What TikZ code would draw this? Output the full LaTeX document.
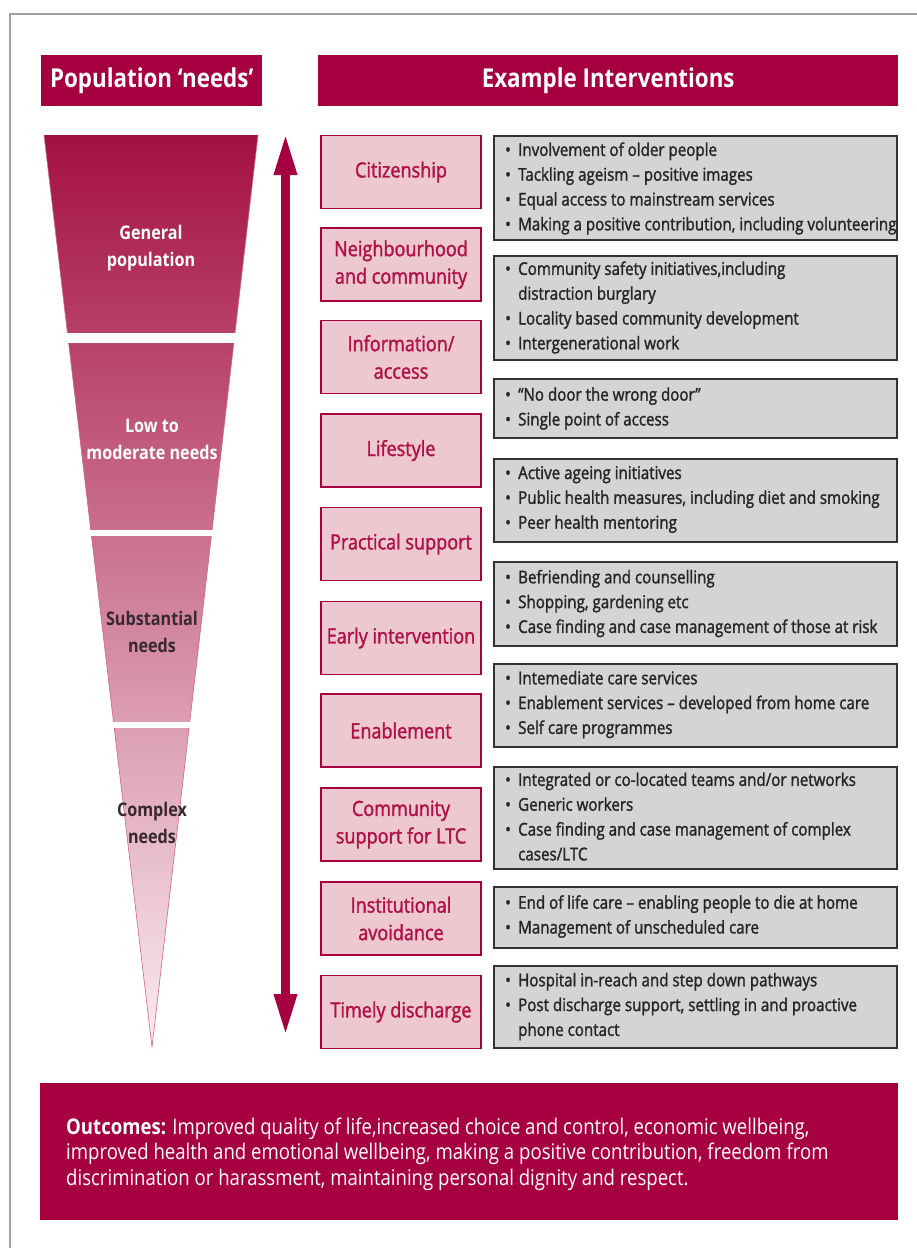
\documentclass[tikz,border=0pt]{standalone}
\usepackage{fontspec}
\setmainfont{Open Sans}[FakeStretch=0.86]
\newfontfamily\medf{Open Sans}[FakeStretch=0.86, FakeBold=1.6]
\usetikzlibrary{arrows.meta,calc}
\definecolor{crim}{RGB}{166,0,64}
\definecolor{pinkfill}{RGB}{237,200,208}
\definecolor{pinktext}{RGB}{176,18,72}
\definecolor{grayfill}{RGB}{212,212,214}
\definecolor{grayline}{RGB}{50,50,50}
\definecolor{gtext}{RGB}{40,36,40}
\definecolor{funtop}{RGB}{164,16,66}
\definecolor{funbot}{RGB}{250,236,240}
\definecolor{framecol}{RGB}{160,160,160}
\definecolor{darkfun}{RGB}{55,40,50}
\newcommand\bl{\makebox[13pt][l]{\textbullet}}
\newcommand\ind{\hspace*{13pt}}
\begin{document}
\begin{tikzpicture}[x=1pt,y=-1pt,
  hdr/.style={fill=crim, text=white, font=\bfseries\fontsize{26}{30}\selectfont, inner sep=0pt, anchor=north west, minimum height=51pt},
  pbox/.style={draw=crim, line width=1.4pt, fill=pinkfill, text=pinktext, minimum width=160pt, minimum height=73pt, align=center, inner sep=0pt, font=\medf\fontsize{21}{27.5}\selectfont},
  gbox/.style={draw=grayline, line width=1.6pt, fill=grayfill, minimum width=403pt, inner sep=0pt},
  gtxt/.style={anchor=west, align=left, inner sep=0pt, text=gtext, font=\medf\fontsize{17.6}{24.8}\selectfont},
  ftxt/.style={align=center, inner sep=0pt, font=\bfseries\fontsize{18.8}{27}\selectfont},
  bigarrow/.style={draw=crim, line width=9pt, {Triangle[length=42pt,width=21pt]}-{Triangle[length=42pt,width=21pt]}}
]
\useasboundingbox (0,0) rectangle (917,1248);
\fill[white] (0,0) rectangle (917,1248);
% frame
\coordinate (frB) at (10,1248);
\coordinate (frTL) at (10,14);
\coordinate (frR) at (917,14);
\draw[framecol, line width=2pt] (frB) -- (frTL) -- (frR);
% headers
\node[hdr, minimum width=221pt] (h1) at (41,55) {Population ‘needs’};
\node[hdr, minimum width=580pt] (h2) at (318,55) {Example Interventions};
% funnel
\coordinate (fTL) at (44,135);
\coordinate (fTR) at (258,135);
\coordinate (fTip) at (152,1047);
\shade[top color=funtop, bottom color=funbot] (fTL) -- (fTR) -- (fTip) -- cycle;
\draw[crim!60, line width=0.6pt] (fTL) -- (fTip) -- (fTR);
\fill[white] (38,333) rectangle (264,343);
\fill[white] (38,530) rectangle (264,536);
\fill[white] (38,722) rectangle (264,728);
\node[ftxt, text=white] (fn1) at (151,248) {General\\population};
\node[ftxt, text=white] (fn2) at (152,439.5) {Low to\\moderate needs};
\node[ftxt, text=darkfun] (fn3) at (152,631.5) {Substantial\\needs};
\node[ftxt, text=darkfun] (fn4) at (152,823) {Complex\\needs};
% arrow
\coordinate (atop) at (285.5,133);
\coordinate (abot) at (285.5,1036);
\draw[bigarrow] (atop) -- (abot);
% pink boxes
\node[pbox] (p1) at (401,172) {Citizenship};
\node[pbox] (p2) at (401,264.5) {Neighbourhood\\and community};
\node[pbox] (p3) at (401,357) {Information/\\access};
\node[pbox] (p4) at (401,450.5) {Lifestyle};
\node[pbox] (p5) at (401,544) {Practical support};
\node[pbox] (p6) at (401,638) {Early intervention};
\node[pbox] (p7) at (401,730.5) {Enablement};
\node[pbox] (p8) at (401,824.5) {Community\\support for LTC};
\node[pbox] (p9) at (401,918.5) {Institutional\\avoidance};
\node[pbox] (p10) at (401,1012) {Timely discharge};
% gray boxes
\node[gbox, minimum height=104pt] (g1) at (695.5,188) {};
\node[gbox, minimum height=104pt] (g2) at (695.5,308) {};
\node[gbox, minimum height=59pt] (g3) at (695.5,408.5) {};
\node[gbox, minimum height=83pt] (g4) at (695.5,500.5) {};
\node[gbox, minimum height=84pt] (g5) at (695.5,604) {};
\node[gbox, minimum height=83pt] (g6) at (695.5,705.5) {};
\node[gbox, minimum height=102pt] (g7) at (695.5,818) {};
\node[gbox, minimum height=61pt] (g8) at (695.5,917.5) {};
\node[gbox, minimum height=82pt] (g9) at (695.5,1007) {};
\node[gtxt] (t1) at (505,188.5) {\bl Involvement of older people\\\bl Tackling ageism – positive images\\\bl Equal access to mainstream services\\\bl Making a positive contribution, including volunteering};
\node[gtxt] (t2) at (505,307.5) {\bl Community safety initiatives,including\\\ind distraction burglary\\\bl Locality based community development\\\bl Intergenerational work};
\node[gtxt] (t3) at (505,408.5) {\bl “No door the wrong door”\\\bl Single point of access};
\node[gtxt] (t4) at (505,499.5) {\bl Active ageing initiatives\\\bl Public health measures, including diet and smoking\\\bl Peer health mentoring};
\node[gtxt] (t5) at (505,603.5) {\bl Befriending and counselling\\\bl Shopping, gardening etc\\\bl Case finding and case management of those at risk};
\node[gtxt] (t6) at (505,704.5) {\bl Intemediate care services\\\bl Enablement services – developed from home care\\\bl Self care programmes};
\node[gtxt] (t7) at (505,816.5) {\bl Integrated or co-located teams and/or networks\\\bl Generic workers\\\bl Case finding and case management of complex\\\ind cases/LTC};
\node[gtxt] (t8) at (505,916.5) {\bl End of life care – enabling people to die at home\\\bl Management of unscheduled care};
\node[gtxt] (t9) at (505,1006.5) {\bl Hospital in-reach and step down pathways\\\bl Post discharge support, settling in and proactive\\\ind phone contact};
% outcomes
\node[fill=crim, minimum width=858pt, minimum height=137pt, anchor=north west, inner sep=0pt] (out) at (40,1083) {};
\node[anchor=west, align=left, text=white, inner sep=0pt, font=\fontsize{21.6}{25.5}\selectfont] (outt) at (66,1154) {\textbf{Outcomes:} Improved quality of life,increased choice and control, economic wellbeing,\\improved health and emotional wellbeing, making a positive contribution, freedom from\\discrimination or harassment, maintaining personal dignity and respect.};
\end{tikzpicture}
\end{document}
